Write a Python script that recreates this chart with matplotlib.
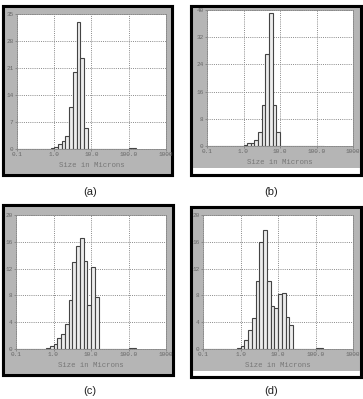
import numpy as np
import matplotlib
matplotlib.use('Agg')
import matplotlib.pyplot as plt
from matplotlib.patches import Rectangle

# bins: 10 per decade, 0.1 .. 158 microns (32 bins)
edges = 10 ** np.linspace(-1, 2.2, 33)

vol_a = [0.05, 0.05, 0.05, 0.05, 0.05, 0.05, 0.05, 0.05, 0.1, 0.3,
         0.5, 1.3, 2.2, 3.4, 11.0, 19.9, 32.8, 23.7, 5.4, 0.1,
         0.05, 0.05, 0.05, 0.05, 0.05, 0.05, 0.05, 0.05, 0.05, 0.05, 0.15, 0.15]
vol_b = [0.05, 0.05, 0.05, 0.05, 0.05, 0.05, 0.05, 0.05, 0.05, 0.1,
         0.3, 0.8, 1.0, 1.8, 4.2, 12.0, 27.0, 39.0, 12.0, 4.2,
         0.05, 0.05, 0.05, 0.05, 0.05, 0.05, 0.05, 0.05, 0.05, 0.05, 0.1, 0.1]
vol_c = [0.05, 0.05, 0.05, 0.05, 0.05, 0.05, 0.05, 0.05, 0.2, 0.5,
         0.8, 1.6, 2.2, 3.8, 7.3, 13.0, 15.4, 16.6, 13.2, 6.5,
         12.2, 7.8, 0.05, 0.05, 0.05, 0.05, 0.05, 0.05, 0.05, 0.05, 0.1, 0.1]
vol_d = [0.05, 0.05, 0.05, 0.05, 0.05, 0.05, 0.05, 0.05, 0.05, 0.1,
         0.4, 1.4, 2.9, 4.7, 10.2, 16.0, 17.8, 10.2, 6.4, 6.1,
         8.2, 8.3, 4.8, 3.6, 0.05, 0.05, 0.05, 0.05, 0.05, 0.05, 0.1, 0.1]

xticks = [0.1, 1.0, 10.0, 100.0, 1000]
xlabels = ['0.1', '1.0', '10.0', '100.0', '1000']
captions = ['(a)', '(b)', '(c)', '(d)']
ymaxes = [35, 40, 20, 20]
ysteps = [7, 8, 4, 4]

W, H = 363, 399
fig = plt.figure(figsize=(W / 100, H / 100), dpi=100)
fig.patch.set_facecolor('white')

def fbox(x0, y0, x1, y1):
    # pixel box (top-left origin) -> figure fraction rect
    return [x0 / W, 1 - y1 / H, (x1 - x0) / W, (y1 - y0) / H]

# panel geometry in pixels: outer frame, gray bottom, plot area, caption pos
panels = [
    dict(outer=(3, 6, 172, 175), gray_bot=175, plot=(17, 14, 166, 149), cap=(90, 192)),
    dict(outer=(191, 6, 361, 175), gray_bot=168, plot=(207, 10, 353, 146), cap=(271, 192)),
    dict(outer=(3, 205, 173, 375), gray_bot=375, plot=(16, 215, 166, 349), cap=(90, 391)),
    dict(outer=(191, 207, 361, 377), gray_bot=371, plot=(203, 215, 353, 349), cap=(271, 391)),
]
values = [vol_a, vol_b, vol_c, vol_d]
mono = 'Liberation Mono'

for p, vals, ymax, ystep, label in zip(panels, values, ymaxes, ysteps, captions):
    x0, y0, x1, y1 = p['outer']
    r = fbox(x0, y0, x1, y1)
    fig.add_artist(Rectangle((r[0], r[1]), r[2], r[3], transform=fig.transFigure,
                             facecolor='white', edgecolor='black', lw=2.2, zorder=-3))
    g = fbox(x0, y0, x1, p['gray_bot'])
    fig.add_artist(Rectangle((g[0], g[1]), g[2], g[3], transform=fig.transFigure,
                             facecolor='#b5b5b5', edgecolor='none', zorder=-2))
    fig.add_artist(Rectangle((r[0], r[1]), r[2], r[3], transform=fig.transFigure,
                             facecolor='none', edgecolor='black', lw=2.2, zorder=-1))

    ax = fig.add_axes(fbox(*p['plot']))
    ax.set_facecolor('white')
    ax.bar(edges[:-1], vals, width=np.diff(edges), align='edge',
           color='#ececec', edgecolor='#444444', linewidth=0.8, zorder=3)
    ax.set_xscale('log')
    ax.set_xlim(0.1, 1000)
    ax.set_ylim(0, ymax)
    ax.set_xticks(xticks)
    ax.set_xticklabels(xlabels)
    ax.minorticks_off()
    ax.set_yticks(np.arange(0, ymax + 1, ystep))
    ax.grid(True, linestyle=(0, (1, 1.2)), color='#8a8a8a', linewidth=0.7, zorder=0)
    ax.set_axisbelow(True)
    for s in ax.spines.values():
        s.set_linestyle((0, (1, 1.2)))
        s.set_color('#8a8a8a')
        s.set_linewidth(0.7)
    ax.tick_params(length=1.5, width=0.5, color='#777777', pad=1,
                   labelsize=4.3, labelcolor='#666666')
    for t in ax.get_xticklabels() + ax.get_yticklabels():
        t.set_fontfamily(mono)
    ax.set_xlabel('Size in Microns', fontsize=5.3, family=mono, color='#777777', labelpad=3)
    cx, cy = p['cap']
    fig.text(cx / W, 1 - cy / H, label, ha='center', va='center',
             fontsize=8, family='Liberation Sans', color='#222222')

fig.savefig('out.png', dpi=100)
